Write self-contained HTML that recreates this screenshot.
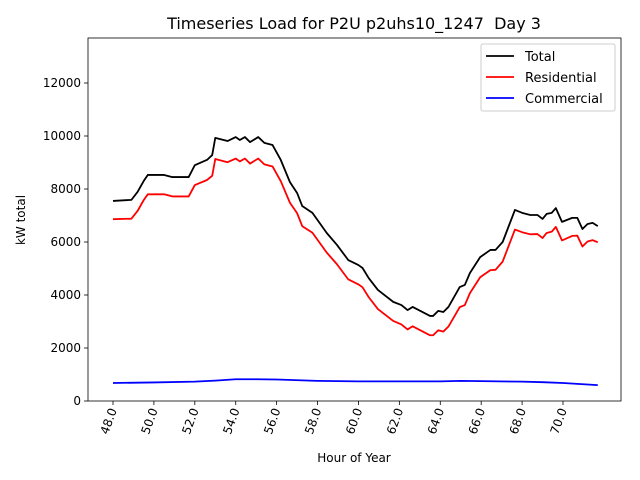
<!DOCTYPE html>
<html><head><meta charset="utf-8"><style>
body{margin:0;background:#fff;}
svg{display:block;font-family:"DejaVu Sans","Liberation Sans",sans-serif;}
</style></head><body>
<svg id="chart" width="640" height="480"></svg>
<script>
const totalHours=[48.0,48.9,49.2,49.5,49.7,50.5,50.9,51.7,52.0,52.6,52.85,53.0,53.6,54.0,54.2,54.45,54.7,55.1,55.4,55.8,56.2,56.65,57.0,57.25,57.75,58.45,58.95,59.5,60.0,60.2,60.5,60.95,61.7,62.1,62.4,62.65,63.5,63.65,63.9,64.15,64.4,64.95,65.2,65.45,65.95,66.45,66.7,67.05,67.65,68.0,68.4,68.75,69.0,69.2,69.45,69.65,69.95,70.45,70.7,70.95,71.2,71.45,71.7];
const totalValues=[7550,7590,7890,8300,8530,8530,8450,8450,8900,9100,9280,9930,9810,9960,9850,9960,9770,9960,9740,9660,9100,8260,7850,7360,7100,6340,5890,5320,5130,5020,4640,4190,3740,3620,3430,3550,3210,3210,3400,3360,3550,4300,4380,4830,5430,5700,5700,6000,7210,7100,7020,7020,6870,7060,7100,7280,6760,6910,6910,6490,6680,6720,6600];
const resValues=[6860,6880,7170,7580,7800,7800,7720,7720,8150,8340,8500,9130,9010,9150,9040,9150,8960,9150,8930,8850,8300,7480,7090,6600,6350,5600,5160,4590,4400,4290,3920,3470,3020,2890,2700,2820,2480,2480,2670,2620,2810,3540,3620,4070,4670,4940,4950,5260,6470,6370,6290,6300,6150,6340,6390,6570,6060,6230,6240,5830,6020,6070,5990];
const comHours=[48,50,52,53,54,55,56,58,60,62,64,65,66,68,69,70,71.7];
const comValues=[680,700,730,770,820,820,810,760,740,740,740,760,750,730,710,680,600];
const xTicks=[48,50,52,54,56,58,60,62,64,66,68,70];
const yTicks=[0,2000,4000,6000,8000,10000,12000];

const NS="http://www.w3.org/2000/svg";
const svg=document.getElementById('chart');
const L=88,R=621,T=38,B=401;
const xs=h=>113+(h-48)*(563-113)/22;
const ys=v=>401-v*(401-83)/12000;
function el(tag,attrs,parent){const e=document.createElementNS(NS,tag);for(const k in attrs)e.setAttribute(k,attrs[k]);(parent||svg).appendChild(e);return e;}

const title=el('text',{x:354,y:29,'text-anchor':'middle','font-size':16,fill:'#000'});
title.textContent='Timeseries Load for P2U p2uhs10_1247\u00A0 Day 3';



xTicks.forEach(t=>{
  const x=xs(t);
  const tk=el('line',{x1:x,x2:x,y1:B,y2:B+4,stroke:'#000','stroke-width':0.8});
  
  
  const lb=el('text',{x:0,y:0,'text-anchor':'end','font-size':12,transform:`translate(${x+4},${B+9}) rotate(-70)`});
  lb.textContent=t.toFixed(1);
  
  
});
yTicks.forEach(t=>{
  const y=ys(t);
  const tk=el('line',{x1:L-4,x2:L,y1:y,y2:y,stroke:'#000','stroke-width':0.8});
  
  
  const lb=el('text',{x:L-7,y:y+4,'text-anchor':'end','font-size':12});
  lb.textContent=t;
  
  
});

function series(hs,vs,color,name){
  const p=el('polyline',{points:hs.map((h,i)=>xs(h)+','+ys(vs[i])).join(' '),fill:'none',stroke:color,'stroke-width':1.8,'stroke-linejoin':'round'});
  
  
}
series(totalHours,totalValues,'#000','total-line');
series(totalHours,resValues,'#ff0000','residential-line');
series(comHours,comValues,'#0000ff','commercial-line');

const frame=el('rect',{x:L,y:T,width:R-L,height:B-T,fill:'none',stroke:'#000','stroke-width':0.8});



const xl=el('text',{x:354,y:462,'text-anchor':'middle','font-size':12});
xl.textContent='Hour of Year';


const yl=el('text',{x:0,y:0,'text-anchor':'middle','font-size':12,transform:'translate(25,220) rotate(-90)'});
yl.textContent='kW total';



const lg=el('g',{});


el('rect',{x:481,y:44,width:134,height:67,rx:2,fill:'#fff','fill-opacity':0.8,stroke:'#ccc','stroke-width':1},lg);
[['Total','#000'],['Residential','#ff0000'],['Commercial','#0000ff']].forEach((d,i)=>{
  const y=56+i*21;
  const ln=el('line',{x1:486,x2:514,y1:y,y2:y,stroke:d[1],'stroke-width':1.8},lg);
  
  
  const tx=el('text',{x:525,y:y+5,'font-size':13},lg);
  tx.textContent=d[0];
  
  
});
</script>
</body></html>
